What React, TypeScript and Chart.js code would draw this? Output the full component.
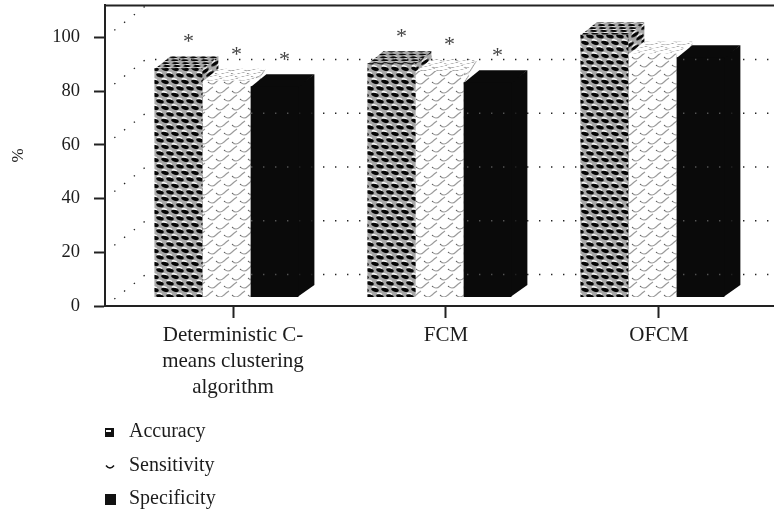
import React, { useEffect, useRef } from "react";
import { Chart, registerables } from "chart.js";

Chart.register(...registerables);

const categories: string[][] = [
  ["Deterministic C-", "means clustering", "algorithm"],
  ["FCM"],
  ["OFCM"],
];
const accuracy = [88.5, 90.3, 101];
const sensitivity = [83.8, 87.4, 94];
const specificity = [81.8, 83.3, 92.6];
const accuracyStars = [true, true, false];
const sensitivityStars = [true, true, false];
const specificityStars = [true, true, false];
const yTicks = [0, 20, 40, 60, 80, 100];

const FONT = '"Liberation Serif", serif';
const INK = "#1c1c1c";
const DEPTH_X = 16;
const DEPTH_Y = 12;
const WALL_X = 40;
const WALL_Y = 31;
const BAR_BASE = 3.35;
const GROUP_SHIFT = -0.031;

function tile(w: number, h: number, paint: (c: CanvasRenderingContext2D) => void) {
  const cv = document.createElement("canvas");
  cv.width = w;
  cv.height = h;
  const c = cv.getContext("2d")!;
  paint(c);
  return cv;
}

function honeycomb() {
  return tile(10, 13, (c) => {
    c.fillStyle = "#a8a8a8";
    c.fillRect(0, 0, 10, 13);
    const cell = (x: number, y: number) => {
      c.fillStyle = "#f8f8f8";
      c.beginPath();
      c.ellipse(x - 0.5, y - 1.6, 2.8, 1.3, 0.2, 0, Math.PI * 2);
      c.fill();
      c.fillStyle = "#060606";
      c.beginPath();
      c.ellipse(x, y + 0.8, 3.9, 1.9, 0.25, 0, Math.PI * 2);
      c.fill();
    };
    [-10, 0, 10].forEach((dx) => {
      cell(5 + dx, 3);
      cell(dx, 9.5);
      cell(dx, 9.5 - 13);
      cell(5 + dx, 3 + 13);
    });
  });
}

function waves() {
  return tile(16, 17, (c) => {
    c.fillStyle = "#ffffff";
    c.fillRect(0, 0, 16, 17);
    c.strokeStyle = "#9a9a9a";
    c.lineWidth = 1.1;
    const w = (x: number, y: number) => {
      c.beginPath();
      c.moveTo(x - 8, y + 1);
      c.quadraticCurveTo(x - 4, y + 5, x, y + 1);
      c.quadraticCurveTo(x + 2, y - 1, x + 5, y - 3);
      c.stroke();
    };
    [-16, 0, 16, 32].forEach((dx) => {
      w(dx, 5);
      w(dx + 8, 13);
    });
    c.fillStyle = "#666";
    c.fillRect(8, 6, 1, 1);
    c.fillRect(0, 14, 1, 1);
  });
}

const extrude3d = {
  id: "extrude3d",
  beforeDatasetsDraw(chart: any) {
    const { ctx } = chart;
    chart.data.datasets.forEach((ds: any, i: number) => {
      chart.getDatasetMeta(i).data.forEach((bar: any) => {
        const p = bar.getProps(["x", "y", "base", "width"], true);
        const l = p.x - p.width / 2;
        const r = p.x + p.width / 2;
        ctx.save();
        ctx.fillStyle = ds.sideFill;
        ctx.beginPath();
        ctx.moveTo(r - 1, p.y);
        ctx.lineTo(r + DEPTH_X, p.y - DEPTH_Y);
        ctx.lineTo(r + DEPTH_X, p.base - DEPTH_Y);
        ctx.lineTo(r - 1, p.base);
        ctx.closePath();
        ctx.fill();
        ctx.fillStyle = ds.topFill;
        ctx.beginPath();
        ctx.moveTo(l, p.y + 1);
        ctx.lineTo(l + DEPTH_X, p.y - DEPTH_Y);
        ctx.lineTo(r + DEPTH_X, p.y - DEPTH_Y);
        ctx.lineTo(r, p.y + 1);
        ctx.closePath();
        ctx.fill();
        ctx.restore();
      });
    });
  },
};

function wallDots(chart: any, color: string) {
  const { ctx, chartArea, scales } = chart;
  ctx.save();
  ctx.strokeStyle = color;
  ctx.lineWidth = 1.3;
  ctx.setLineDash([1.4, 10.6]);
  yTicks.forEach((t) => {
    const y = scales.y.getPixelForValue(t);
    if (t < 100) {
      ctx.beginPath();
      ctx.moveTo(chartArea.left + WALL_X + 10, y - WALL_Y - 0.5);
      ctx.lineTo(chartArea.right, y - WALL_Y - 0.5);
      ctx.stroke();
    }
  });
  ctx.restore();
}

const backWall = {
  id: "backWall",
  beforeDatasetsDraw(chart: any) {
    const { ctx, chartArea, scales } = chart;
    wallDots(chart, "#222");
    ctx.save();
    ctx.strokeStyle = "#222";
    ctx.lineWidth = 1.3;
    ctx.setLineDash([1.4, 11]);
    ctx.lineDashOffset = -8;
    yTicks.forEach((t) => {
      const y = scales.y.getPixelForValue(t);
      ctx.beginPath();
      ctx.moveTo(chartArea.left + 3, y - 2);
      ctx.lineTo(chartArea.left + WALL_X, y - WALL_Y);
      ctx.stroke();
    });
    ctx.restore();
    ctx.save();
    ctx.strokeStyle = "#222";
    ctx.lineWidth = 2;
    ctx.beginPath();
    ctx.moveTo(chartArea.left, chartArea.top + 0.5);
    ctx.lineTo(chartArea.right, chartArea.top + 0.5);
    ctx.stroke();
    ctx.restore();
  },
};

const overlays = {
  id: "overlays",
  afterDatasetsDraw(chart: any) {
    const { ctx } = chart;
    ctx.save();
    ctx.beginPath();
    const last = chart.getDatasetMeta(2);
    last.data.forEach((bar: any) => {
      const p = bar.getProps(["x", "y", "base", "width"], true);
      ctx.rect(p.x - p.width / 2, p.y, p.width, p.base - p.y);
    });
    ctx.clip();
    wallDots(chart, "#555");
    ctx.restore();

    ctx.save();
    ctx.fillStyle = "#444";
    ctx.font = `22px ${FONT}`;
    ctx.textAlign = "center";
    ctx.textBaseline = "alphabetic";
    chart.data.datasets.forEach((ds: any, i: number) => {
      chart.getDatasetMeta(i).data.forEach((bar: any, j: number) => {
        if (!ds.stars[j]) return;
        const p = bar.getProps(["x", "y"], true);
        ctx.fillText("*", p.x + 10, p.y - 20);
      });
    });
    ctx.restore();

    ctx.save();
    ctx.font = `20px ${FONT}`;
    ctx.textBaseline = "middle";
    ctx.textAlign = "left";
    chart.data.datasets.forEach((ds: any, i: number) => {
      const y = 432 + i * 33.5;
      ctx.fillStyle = INK;
      ctx.fillText(ds.label, 129, y);
      ctx.fillStyle = "#111";
      if (i === 0) {
        ctx.fillRect(105, y - 4, 9, 9);
        ctx.fillStyle = "#fff";
        ctx.fillRect(106, y - 2, 5, 2);
      } else if (i === 1) {
        ctx.strokeStyle = "#111";
        ctx.lineWidth = 1.5;
        ctx.beginPath();
        ctx.moveTo(106, y);
        ctx.quadraticCurveTo(110, y + 5, 114, y);
        ctx.stroke();
      } else {
        ctx.fillRect(105, y - 5, 11, 11);
      }
    });
    ctx.restore();
  },
};

export default function App() {
  const ref = useRef<HTMLCanvasElement>(null);
  useEffect(() => {
    const probe = document.createElement("canvas").getContext("2d")!;
    const hc = honeycomb();
    const wv = waves();
    const sheared = (cv: HTMLCanvasElement, m: number[]) => {
      const pat = probe.createPattern(cv, "repeat")!;
      pat.setTransform(new DOMMatrix(m));
      return pat;
    };
    const hcFront = probe.createPattern(hc, "repeat")!;
    const wvFront = probe.createPattern(wv, "repeat")!;
    const build = (label: string, data: number[], stars: boolean[], front: any, top: any, side: any) => ({
      label,
      data: data.map((v, i) => ({ x: i + GROUP_SHIFT, y: v })),
      stars,
      base: BAR_BASE,
      backgroundColor: front,
      topFill: top,
      sideFill: side,
      borderWidth: 0,
      barPercentage: 1,
      categoryPercentage: 0.676,
    });
    const chart = new Chart(ref.current!, {
      type: "bar",
      data: {
        datasets: [
          build("Accuracy", accuracy, accuracyStars, hcFront, sheared(hc, [1, 0, -0.6, 0.45, 0, 0]), sheared(hc, [1, -0.75, 0, 1, 0, 0])),
          build("Sensitivity", sensitivity, sensitivityStars, wvFront, sheared(wv, [1, 0, -0.5, 0.38, 0, 0]), sheared(wv, [1, -0.75, 0, 1, 0, 0])),
          build("Specificity", specificity, specificityStars, "#0a0a0a", "#0a0a0a", "#0a0a0a"),
        ] as any,
      },
      plugins: [extrude3d, backWall, overlays],
      options: {
        animation: false,
        responsive: false,
        parsing: { xAxisKey: "x", yAxisKey: "y" },
        layout: { autoPadding: false, padding: { top: 5, left: 0, right: 0, bottom: 0 } },
        plugins: { legend: { display: false }, tooltip: { enabled: false } },
        scales: {
          x: {
            type: "linear",
            offset: false,
            min: -0.601,
            max: 2.54,
            afterBuildTicks: (s: any) => {
              s.ticks = categories.map((_, i) => ({ value: i }));
            },
            afterFit: (s: any) => {
              s.height = 209;
              s.paddingLeft = s.paddingRight = s.paddingTop = s.paddingBottom = 0;
            },
            ticks: {
              autoSkip: false,
              maxRotation: 0,
              minRotation: 0,
              padding: 4,
              color: INK,
              font: { family: FONT, size: 21, lineHeight: 1.24 },
              callback: (v: any) => categories[v] ?? "",
            },
            border: { color: "#222", width: 2 },
            grid: { drawOnChartArea: false, offset: false, tickLength: 12, tickColor: "#222", tickWidth: 2 },
          },
          y: {
            min: 0,
            max: 112,
            afterBuildTicks: (s: any) => {
              s.ticks = yTicks.map((value) => ({ value }));
            },
            afterFit: (s: any) => {
              s.width = 105;
              s.paddingLeft = s.paddingRight = s.paddingTop = s.paddingBottom = 0;
            },
            title: { display: true, text: "%", color: INK, font: { family: FONT, size: 17 }, padding: { top: 8, bottom: 0 } },
            ticks: { color: INK, padding: 14, font: { family: FONT, size: 18.5 } },
            border: { color: "#222", width: 2 },
            grid: { drawOnChartArea: false, tickLength: 11, tickColor: "#222", tickWidth: 2 },
          },
        },
      },
    } as any);
    return () => chart.destroy();
  }, []);
  return (
    <div style={{ position: "fixed", left: 0, top: 0, width: 774, height: 515, background: "#fff" }}>
      <canvas ref={ref} width={774} height={515} style={{ display: "block" }} />
    </div>
  );
}
